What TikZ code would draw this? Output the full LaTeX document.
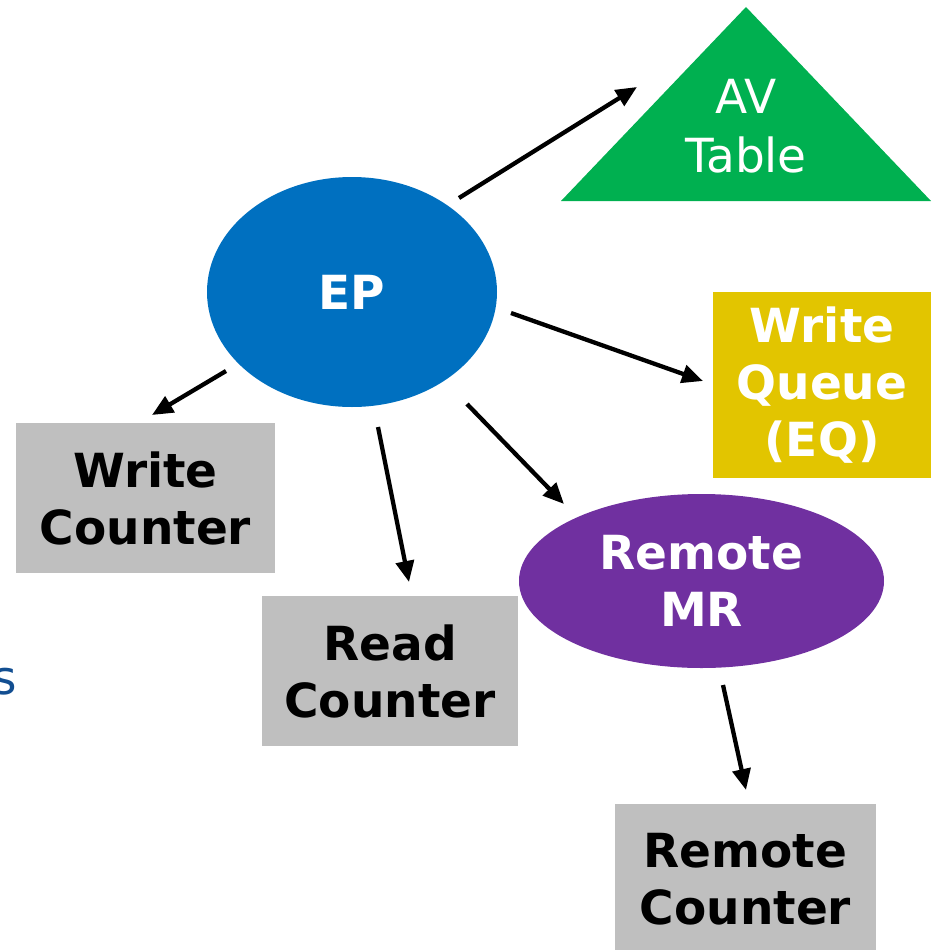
\documentclass[tikz,border=0pt]{standalone}
\usepackage{fontspec}
\setmainfont{DejaVu Sans}
\usetikzlibrary{shapes.geometric,arrows.meta}
\definecolor{epblue}{HTML}{0070C0}
\definecolor{avgreen}{HTML}{00B050}
\definecolor{eqyellow}{HTML}{E2C500}
\definecolor{boxgray}{HTML}{BFBFBF}
\definecolor{mrpurple}{HTML}{7030A0}
\definecolor{textblue}{HTML}{124E91}
\tikzset{
  lbl/.style={font=\fontsize{47}{57}\selectfont\bfseries, align=center, inner sep=0pt},
  graybox/.style={lbl, fill=boxgray, text=black, minimum width=#1},
  link/.style={line width=4.3pt, -{Triangle[length=21pt,width=18pt]}}
}
\begin{document}
\begin{tikzpicture}[x=1pt,y=-1pt]
\useasboundingbox (0,0) rectangle (936,950);

% partial text at the left edge
\node[anchor=base east, inner sep=0pt, text=textblue, font=\fontsize{47}{57}\selectfont] (frag) at (17,694) {s};

% central endpoint
\node[ellipse, fill=epblue, text=white, lbl, minimum width=290pt, minimum height=230pt] (ep) at (352,292) {EP};

% address vector table
\fill[avgreen] (746,7) -- (931,201) -- (561,201) -- cycle;
\node[lbl, font=\fontsize{47}{59}\selectfont, text=white] (av) at (746,126) {AV\\Table};

% write queue
\node[lbl, fill=eqyellow, text=white, minimum width=218pt, minimum height=186pt] (eq) at (822,385) {Write\\Queue\\(EQ)};

% counters
\node[graybox=259pt, minimum height=150pt] (wc) at (145.5,498) {Write\\Counter};
\node[graybox=256pt, minimum height=150pt] (rc) at (390,671) {Read\\Counter};
\node[graybox=261pt, minimum height=150pt] (rmc) at (745.5,879) {Remote\\Counter};

% remote memory region
\node[ellipse, fill=mrpurple, text=white, lbl, minimum width=365pt, minimum height=174pt] (mr) at (701.5,581) {Remote\\MR};

% connector end points
\coordinate (epA) at (459,198);   \coordinate (avA) at (637,87);
\coordinate (epB) at (511,313);   \coordinate (eqB) at (703,381);
\coordinate (epC) at (226,371);   \coordinate (wcC) at (152,415);
\coordinate (epD) at (378,427);   \coordinate (rcD) at (409,582);
\coordinate (epE) at (467,404);   \coordinate (mrE) at (564,504);
\coordinate (mrF) at (723,685);   \coordinate (rmcF) at (746,790);

\draw[link] (epA) -- (avA);
\draw[link] (epB) -- (eqB);
\draw[link] (epC) -- (wcC);
\draw[link] (epD) -- (rcD);
\draw[link] (epE) -- (mrE);
\draw[link] (mrF) -- (rmcF);
\end{tikzpicture}
\end{document}
